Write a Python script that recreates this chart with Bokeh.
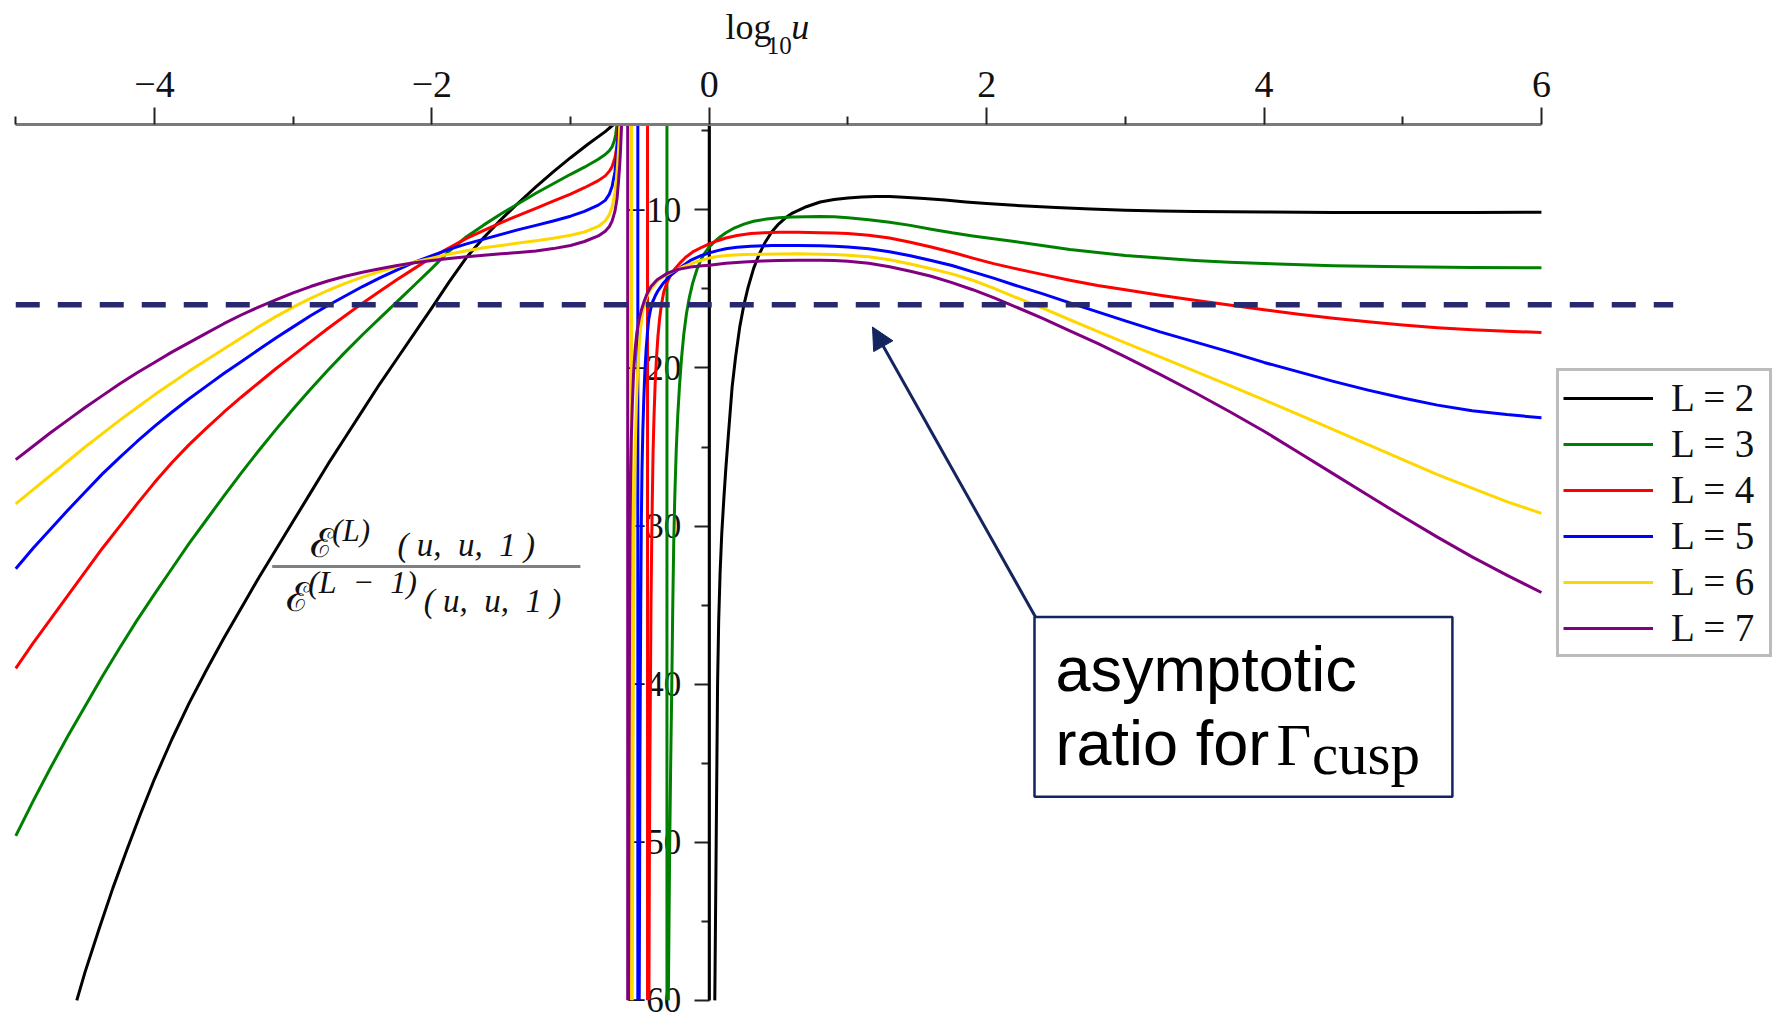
import numpy as np
from bokeh.plotting import figure
from bokeh.models import (Range1d, LinearAxis, FixedTicker, Legend, LegendItem,
                          Label, BoxAnnotation, Arrow, NormalHead)
from bokeh.embed import file_html
from bokeh.resources import INLINE

# ---------------------------------------------------------------- data
loops = [2, 3, 4, 5, 6, 7]
line_colors = ["#000000", "#008000", "#ff0000", "#0000ff", "#ffd700", "#800080"]

view_top = -4.6
view_bottom = -60.0
asymptotic_ratio = -16.0
asymptote_extent = [-5.0, 6.95]

x_major_ticks = [-4, -2, 0, 2, 4, 6]
x_minor_ticks = [-5, -3, -1, 1, 3, 5]
y_major_ticks = [-60, -50, -40, -30, -20, -10]
y_minor_ticks = [-55, -45, -35, -25, -15, -5]

# log10(u) of the pole of each ratio
pole_x = [0.0, -0.305, -0.445, -0.515, -0.561, -0.588]

# branch left of the pole
left_x_L2 = [-4.56, -4.5, -4.4, -4.3, -4.2, -4.1, -4.0, -3.875, -3.75, -3.625, -3.5, -3.375,
             -3.25, -3.125, -3.0, -2.875, -2.75, -2.625, -2.5, -2.375, -2.25, -2.125, -2.0,
             -1.875, -1.75, -1.625, -1.5, -1.375, -1.25, -1.125, -1.0, -0.875, -0.75, -0.69]
left_y_L2 = [-60.0, -58.2, -55.5, -52.9, -50.5, -48.2, -46.0, -43.5, -41.2, -39.1, -37.1, -35.2,
             -33.3, -31.5, -29.7, -27.9, -26.1, -24.4, -22.7, -21.0, -19.4, -17.8, -16.2,
             -14.55, -13.0, -11.75, -10.6, -9.55, -8.55, -7.6, -6.7, -5.85, -5.05, -4.6]

left_x_L3 = [-5.0, -4.875, -4.75, -4.625, -4.5, -4.375, -4.25, -4.125, -4.0, -3.875, -3.75,
             -3.625, -3.5, -3.375, -3.25, -3.125, -3.0, -2.875, -2.75, -2.625, -2.5, -2.375,
             -2.25, -2.125, -2.0, -1.875, -1.75, -1.625, -1.5, -1.375, -1.25, -1.125, -1.0,
             -0.9, -0.8, -0.75, -0.72, -0.7, -0.685, -0.675, -0.665]
left_y_L3 = [-49.6, -47.4, -45.3, -43.3, -41.4, -39.5, -37.7, -35.95, -34.3, -32.7, -31.1,
             -29.6, -28.1, -26.65, -25.25, -23.9, -22.6, -21.35, -20.15, -19.0, -17.9, -16.85,
             -15.8, -14.75, -13.7, -12.6, -11.7, -10.95, -10.25, -9.6, -8.95, -8.35, -7.75,
             -7.3, -6.8, -6.5, -6.25, -6.0, -5.65, -5.25, -4.6]

left_x_L4 = [-5.0, -4.875, -4.75, -4.625, -4.5, -4.375, -4.25, -4.125, -4.0, -3.875, -3.75,
             -3.625, -3.5, -3.375, -3.25, -3.125, -3.0, -2.875, -2.75, -2.625, -2.5, -2.375,
             -2.25, -2.125, -2.0, -1.875, -1.75, -1.625, -1.5, -1.375, -1.25, -1.125, -1.0,
             -0.9, -0.8, -0.75, -0.72, -0.7, -0.68, -0.67, -0.66, -0.655]
left_y_L4 = [-39.0, -37.4, -35.9, -34.4, -32.9, -31.4, -30.0, -28.6, -27.25, -26.0, -24.85,
             -23.8, -22.8, -21.85, -20.95, -20.05, -19.2, -18.35, -17.5, -16.7, -15.9, -15.15,
             -14.4, -13.7, -13.0, -12.4, -11.8, -11.3, -10.8, -10.35, -9.9, -9.45, -9.0,
             -8.6, -8.15, -7.85, -7.55, -7.25, -6.7, -6.2, -5.4, -4.6]

left_x_L5 = [-5.0, -4.875, -4.75, -4.625, -4.5, -4.375, -4.25, -4.125, -4.0, -3.875, -3.75,
             -3.625, -3.5, -3.375, -3.25, -3.125, -3.0, -2.875, -2.75, -2.625, -2.5, -2.375,
             -2.25, -2.125, -2.0, -1.875, -1.75, -1.625, -1.5, -1.375, -1.25, -1.125, -1.0,
             -0.9, -0.8, -0.75, -0.72, -0.7, -0.68, -0.67, -0.66, -0.65]
left_y_L5 = [-32.7, -31.4, -30.2, -29.0, -27.85, -26.7, -25.65, -24.65, -23.7, -22.8, -21.95,
             -21.15, -20.35, -19.6, -18.85, -18.1, -17.4, -16.7, -16.05, -15.45, -14.85, -14.3,
             -13.8, -13.3, -12.9, -12.5, -12.15, -11.85, -11.55, -11.25, -10.98, -10.7, -10.4,
             -10.1, -9.7, -9.4, -9.0, -8.5, -7.6, -6.8, -5.7, -4.6]

left_x_L6 = [-5.0, -4.875, -4.75, -4.625, -4.5, -4.375, -4.25, -4.125, -4.0, -3.875, -3.75,
             -3.625, -3.5, -3.375, -3.25, -3.125, -3.0, -2.875, -2.75, -2.625, -2.5, -2.375,
             -2.25, -2.125, -2.0, -1.875, -1.75, -1.625, -1.5, -1.375, -1.25, -1.125, -1.0,
             -0.9, -0.8, -0.75, -0.72, -0.7, -0.68, -0.67, -0.66, -0.65, -0.645]
left_y_L6 = [-28.6, -27.7, -26.8, -25.9, -25.0, -24.15, -23.3, -22.5, -21.7, -20.95, -20.2,
             -19.5, -18.8, -18.1, -17.4, -16.75, -16.15, -15.6, -15.1, -14.65, -14.25, -13.9,
             -13.58, -13.3, -13.05, -12.8, -12.58, -12.4, -12.25, -12.1, -11.96, -11.8, -11.6,
             -11.4, -11.05, -10.7, -10.3, -9.8, -8.9, -8.1, -7.0, -5.6, -4.6]

left_x_L7 = [-5.0, -4.875, -4.75, -4.625, -4.5, -4.375, -4.25, -4.125, -4.0, -3.875, -3.75,
             -3.625, -3.5, -3.375, -3.25, -3.125, -3.0, -2.875, -2.75, -2.625, -2.5, -2.375,
             -2.25, -2.125, -2.0, -1.875, -1.75, -1.625, -1.5, -1.375, -1.25, -1.125, -1.0,
             -0.9, -0.8, -0.75, -0.72, -0.7, -0.68, -0.665, -0.655, -0.645, -0.638, -0.632]
left_y_L7 = [-25.8, -24.95, -24.1, -23.3, -22.5, -21.75, -21.0, -20.3, -19.65, -19.0, -18.4,
             -17.8, -17.2, -16.65, -16.15, -15.7, -15.25, -14.85, -14.5, -14.2, -13.95, -13.72,
             -13.52, -13.35, -13.2, -13.07, -12.96, -12.87, -12.78, -12.7, -12.6, -12.45, -12.25,
             -12.0, -11.65, -11.35, -11.05, -10.7, -10.1, -9.3, -8.3, -7.1, -5.9, -4.6]

# branch right of the pole
right_x_L2 = [0.04, 0.045, 0.05, 0.055, 0.06, 0.068, 0.078, 0.09, 0.105, 0.12, 0.14, 0.165,
              0.19, 0.22, 0.25, 0.28, 0.32, 0.36, 0.4, 0.45, 0.5, 0.55, 0.6, 0.7, 0.8, 0.9,
              1.0, 1.1, 1.2, 1.3, 1.4, 1.55, 1.7, 1.85, 2.0, 2.25, 2.5, 2.75, 3.0, 3.25, 3.5,
              4.0, 4.5, 5.0, 5.5, 6.0]
right_y_L2 = [-60.0, -55.0, -50.0, -45.0, -40.0, -36.0, -33.0, -30.5, -28.3, -26.3, -24.0,
              -21.2, -19.3, -17.4, -16.0, -14.9, -13.7, -12.8, -12.1, -11.4, -10.9, -10.5,
              -10.2, -9.8, -9.5, -9.35, -9.25, -9.19, -9.16, -9.16, -9.2, -9.28, -9.38, -9.5,
              -9.6, -9.74, -9.85, -9.95, -10.02, -10.07, -10.1, -10.14, -10.16, -10.17, -10.16,
              -10.15]

right_x_L3 = [-0.295, -0.29, -0.285, -0.278, -0.27, -0.263, -0.256, -0.248, -0.238, -0.227,
              -0.215, -0.2, -0.184, -0.165, -0.145, -0.12, -0.09, -0.06, -0.03, 0.0, 0.04,
              0.08, 0.12, 0.18, 0.25, 0.32, 0.4, 0.5, 0.6, 0.7, 0.8, 0.9, 1.0, 1.15, 1.3,
              1.45, 1.6, 1.75, 1.9, 2.05, 2.2, 2.4, 2.6, 2.8, 3.0, 3.25, 3.5, 3.75, 4.0, 4.5,
              5.0, 5.5, 6.0]
right_y_L3 = [-60.0, -55.0, -50.0, -45.0, -40.0, -35.0, -31.0, -28.0, -25.2, -23.0, -21.2,
              -19.4, -17.9, -16.6, -15.6, -14.65, -13.8, -13.15, -12.7, -12.35, -12.0, -11.7,
              -11.45, -11.15, -10.9, -10.72, -10.6, -10.5, -10.45, -10.43, -10.42, -10.44,
              -10.5, -10.62, -10.78, -10.98, -11.22, -11.45, -11.65, -11.83, -12.0, -12.25,
              -12.5, -12.7, -12.88, -13.05, -13.2, -13.32, -13.4, -13.53, -13.6, -13.64, -13.66]

right_x_L4 = [-0.435, -0.432, -0.428, -0.424, -0.42, -0.415, -0.41, -0.405, -0.398, -0.39,
              -0.38, -0.37, -0.358, -0.345, -0.328, -0.305, -0.28, -0.25, -0.215, -0.17, -0.112,
              -0.05, 0.0, 0.06, 0.12, 0.2, 0.3, 0.4, 0.5, 0.64, 0.8, 0.9, 1.0, 1.15, 1.3, 1.45,
              1.6, 1.75, 1.9, 2.05, 2.2, 2.4, 2.6, 2.8, 3.0, 3.25, 3.5, 3.75, 4.0, 4.25, 4.5,
              4.75, 5.0, 5.25, 5.5, 5.75, 6.0]
right_y_L4 = [-60.0, -52.0, -45.0, -40.0, -35.0, -31.0, -28.0, -25.3, -23.0, -21.0, -19.3,
              -18.0, -16.9, -16.0, -15.2, -14.6, -14.15, -13.75, -13.4, -13.0, -12.62, -12.35,
              -12.15, -11.95, -11.78, -11.62, -11.5, -11.44, -11.42, -11.42, -11.44, -11.47,
              -11.5, -11.6, -11.78, -12.05, -12.35, -12.68, -13.05, -13.4, -13.7, -14.08,
              -14.45, -14.78, -15.05, -15.4, -15.72, -16.02, -16.32, -16.6, -16.85, -17.08,
              -17.28, -17.45, -17.58, -17.68, -17.75]

right_x_L5 = [-0.505, -0.502, -0.5, -0.497, -0.494, -0.49, -0.485, -0.479, -0.472, -0.464,
              -0.455, -0.445, -0.436, -0.423, -0.41, -0.39, -0.37, -0.33, -0.28, -0.2, -0.136,
              -0.06, 0.0, 0.06, 0.12, 0.2, 0.3, 0.45, 0.64, 0.8, 0.9, 1.0, 1.15, 1.3, 1.45,
              1.6, 1.75, 1.9, 2.05, 2.2, 2.4, 2.6, 2.8, 3.0, 3.25, 3.5, 3.75, 4.0, 4.25, 4.5,
              4.75, 5.0, 5.25, 5.5, 5.75, 6.0]
right_y_L5 = [-60.0, -52.0, -45.0, -40.0, -35.0, -30.0, -26.5, -24.0, -22.0, -20.2, -18.8,
              -17.7, -16.9, -16.3, -15.85, -15.45, -15.12, -14.62, -14.15, -13.6, -13.2, -12.9,
              -12.72, -12.58, -12.46, -12.37, -12.3, -12.26, -12.25, -12.27, -12.3, -12.35,
              -12.46, -12.65, -12.9, -13.2, -13.52, -13.92, -14.32, -14.75, -15.3, -15.88,
              -16.45, -17.02, -17.72, -18.35, -18.98, -19.65, -20.25, -20.85, -21.4, -21.9,
              -22.35, -22.7, -22.95, -23.15]

right_x_L6 = [-0.555, -0.552, -0.55, -0.547, -0.544, -0.541, -0.537, -0.532, -0.525, -0.516,
              -0.505, -0.495, -0.484, -0.47, -0.455, -0.44, -0.424, -0.38, -0.328, -0.25, -0.18,
              -0.1, 0.0, 0.06, 0.12, 0.25, 0.4, 0.64, 0.8, 0.9, 1.0, 1.15, 1.3, 1.45, 1.6, 1.75,
              1.9, 2.05, 2.2, 2.4, 2.6, 2.8, 3.0, 3.25, 3.5, 3.75, 4.0, 4.25, 4.5, 4.75, 5.0,
              5.25, 5.5, 5.75, 6.0]
right_y_L6 = [-60.0, -52.0, -45.0, -40.0, -35.0, -30.0, -27.0, -24.5, -22.2, -20.2, -18.6,
              -17.5, -16.7, -16.05, -15.6, -15.3, -15.05, -14.55, -14.19, -13.85, -13.58, -13.3,
              -13.05, -12.95, -12.88, -12.83, -12.8, -12.78, -12.8, -12.83, -12.87, -12.97,
              -13.16, -13.42, -13.72, -14.05, -14.45, -14.95, -15.5, -16.2, -16.95, -17.68,
              -18.42, -19.3, -20.2, -21.1, -22.02, -22.95, -23.9, -24.85, -25.8, -26.75,
              -27.6, -28.45, -29.2]

right_x_L7 = [-0.582, -0.58, -0.578, -0.576, -0.574, -0.571, -0.567, -0.562, -0.555, -0.546,
              -0.535, -0.522, -0.506, -0.488, -0.468, -0.448, -0.42, -0.376, -0.3, -0.23,
              -0.135, -0.05, 0.0, 0.12, 0.25, 0.38, 0.5, 0.64, 0.8, 0.9, 1.0, 1.15, 1.3, 1.45,
              1.6, 1.75, 1.9, 2.05, 2.2, 2.4, 2.6, 2.8, 3.0, 3.25, 3.5, 3.75, 4.0, 4.25, 4.5,
              4.75, 5.0, 5.25, 5.5, 5.75, 6.0]
right_y_L7 = [-60.0, -52.0, -45.0, -40.0, -35.0, -30.0, -27.0, -24.5, -22.4, -20.4, -18.9,
              -17.75, -16.95, -16.3, -15.75, -15.3, -14.85, -14.42, -14.0, -13.77, -13.62,
              -13.53, -13.5, -13.38, -13.3, -13.24, -13.2, -13.18, -13.18, -13.2, -13.25,
              -13.38, -13.6, -13.88, -14.2, -14.6, -15.05, -15.55, -16.1, -16.85, -17.65,
              -18.45, -19.3, -20.4, -21.55, -22.75, -24.0, -25.35, -26.7, -28.05, -29.4,
              -30.7, -31.95, -33.1, -34.2]

left_x = [left_x_L2, left_x_L3, left_x_L4, left_x_L5, left_x_L6, left_x_L7]
left_y = [left_y_L2, left_y_L3, left_y_L4, left_y_L5, left_y_L6, left_y_L7]
right_x = [right_x_L2, right_x_L3, right_x_L4, right_x_L5, right_x_L6, right_x_L7]
right_y = [right_y_L2, right_y_L3, right_y_L4, right_y_L5, right_y_L6, right_y_L7]

SERIF = "Liberation Serif"
SANS = "Liberation Sans"
NAVY = "#14245e"
PX_PER_UNIT_Y = 15.81

# ---------------------------------------------------------------- figure
p = figure(width=1787, height=1025,
           x_range=Range1d(-5.11, 7.774), y_range=Range1d(-61.59, 3.243),
           output_backend="svg", toolbar_location=None,
           x_axis_location=None, y_axis_location=None,
           min_border_left=0, min_border_right=0, min_border_top=0, min_border_bottom=0,
           background_fill_color="white", border_fill_color="white",
           outline_line_color=None)
p.xgrid.grid_line_color = None
p.ygrid.grid_line_color = None

minus = "\u2212"

xaxis = LinearAxis(
    fixed_location=view_top,
    ticker=FixedTicker(ticks=x_major_ticks, minor_ticks=x_minor_ticks),
    bounds=(-5, 6),
    major_label_overrides={t: (minus + str(-t) if t < 0 else str(t)) for t in x_major_ticks},
    axis_line_color="#7a7a7a", axis_line_width=3,
    major_tick_line_color="#222222", major_tick_line_width=2,
    major_tick_out=17, major_tick_in=0,
    minor_tick_line_color="#222222", minor_tick_line_width=2,
    minor_tick_out=8, minor_tick_in=0,
    major_label_standoff=10,
    major_label_text_font=SERIF, major_label_text_font_size="38px",
    major_label_text_color="#111111")
p.add_layout(xaxis, "above")

yaxis = LinearAxis(
    fixed_location=0,
    bounds=(view_bottom, view_top),
    ticker=FixedTicker(ticks=y_major_ticks, minor_ticks=y_minor_ticks),
    major_label_overrides={t: minus + str(-t) for t in y_major_ticks},
    axis_line_color="#7a7a7a", axis_line_width=3,
    major_tick_line_color="#222222", major_tick_line_width=2,
    major_tick_out=15, major_tick_in=0,
    minor_tick_line_color="#222222", minor_tick_line_width=2,
    minor_tick_out=8, minor_tick_in=0,
    major_label_standoff=13,
    major_label_text_font=SERIF, major_label_text_font_size="35px",
    major_label_text_color="#111111",
    level="underlay")
p.add_layout(yaxis, "left")

# ---------------------------------------------------------------- curves
gap = [np.nan]
items = []
for L, color, lx, ly, px, rx, ry in zip(loops, line_colors, left_x, left_y, pole_x, right_x, right_y):
    xs = np.array(lx + gap + [px, px] + gap + rx, dtype=float)
    ys = np.array(ly + gap + [view_top, view_bottom] + gap + ry, dtype=float)
    r = p.line(xs, ys, line_color=color, line_width=3, line_join="round")
    items.append(LegendItem(label=f"L = {L}", renderers=[r]))

# asymptotic cusp ratio
p.line(asymptote_extent, [asymptotic_ratio, asymptotic_ratio],
       line_color="#28286e", line_width=5.5, line_dash="24 18")

legend = Legend(items=items, location=(1556, 368),
                glyph_width=90, glyph_height=38, label_height=38, label_width=94,
                label_standoff=18, spacing=1, padding=4, margin=0,
                border_line_color="#7a7a7a", border_line_width=3,
                background_fill_color="white", background_fill_alpha=1.0,
                label_text_font=SERIF, label_text_font_size="39px",
                label_text_color="#111111")
p.add_layout(legend)


def add_text(x, y, text, font, size, style="normal", color="#111111"):
    # y is the intended baseline; lift the box so the glyphs sit on it
    lift = 0.33 * size / PX_PER_UNIT_Y
    p.add_layout(Label(x=x, y=y + lift, text=text, text_font=font,
                       text_font_size=f"{size}px", text_font_style=style,
                       text_color=color, text_align="left",
                       text_baseline="alphabetic"))


# horizontal axis title: log10 u
add_text(0.117, 0.80, "log", SERIF, 36)
add_text(0.415, -0.15, "10", SERIF, 25)
add_text(0.592, 0.80, "u", SERIF, 36, style="italic")

# vertical quantity: E^(L)(u,u,1) / E^(L-1)(u,u,1)
script_font = "DejaVu Serif"
sp = "\u00a0"
uu1 = "(" + sp + "u," + sp + sp + "u," + sp + sp + "1" + sp + ")"
add_text(-2.875, -31.9, "\u2130", script_font, 40)
add_text(-2.719, -30.95, "(L)", SERIF, 31, style="italic")
add_text(-2.248, -31.9, uu1, SERIF, 33, style="italic")
p.segment(x0=[-3.151], y0=[-32.56], x1=[-0.929], y1=[-32.56],
          line_color="#808080", line_width=3)
add_text(-3.055, -35.35, "\u2130", script_font, 40)
add_text(-2.892, -34.2, "(L" + sp + sp + minus + sp + sp + "1)", SERIF, 32, style="italic")
add_text(-2.058, -35.4, uu1, SERIF, 33, style="italic")

# call-out for the asymptotic ratio
p.add_layout(BoxAnnotation(left=2.345, right=5.358, top=-35.75, bottom=-47.12,
                           fill_color="white", fill_alpha=1.0,
                           line_color=NAVY, line_alpha=1.0, line_width=2.5))
add_text(2.497, -40.34, "asymptotic", SANS, 63, color="#000000")
add_text(2.497, -45.05, "ratio for", SANS, 63, color="#000000")
add_text(4.09, -45.11, "\u0393", SERIF, 60, color="#000000")
add_text(4.345, -45.68, "cusp", SERIF, 59, color="#000000")

p.add_layout(Arrow(x_start=2.352, y_start=-35.75, x_end=1.177, y_end=-17.41,
                   line_color=NAVY, line_width=3,
                   end=NormalHead(size=22, fill_color=NAVY, line_color=NAVY)))

open("out.html", "w").write(file_html(p, INLINE))
